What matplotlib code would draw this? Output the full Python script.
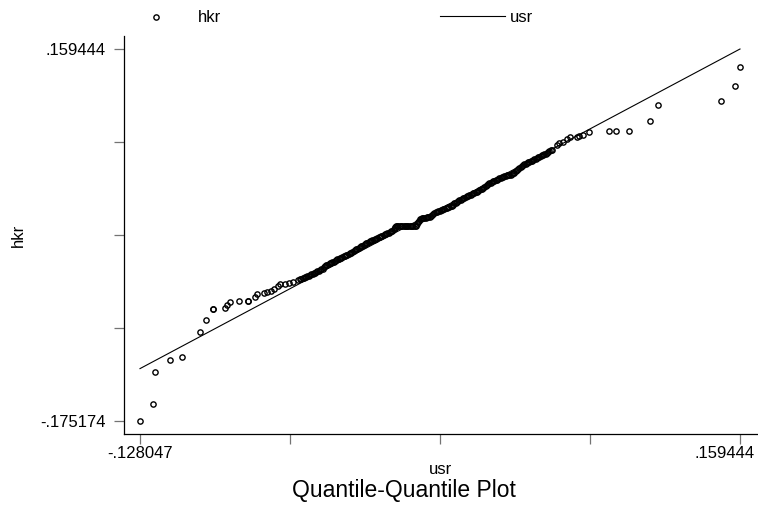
import matplotlib
matplotlib.use("Agg")
import matplotlib.pyplot as plt
from matplotlib.lines import Line2D
from matplotlib.transforms import ScaledTranslation

plt.rcParams['font.family'] = ['Liberation Sans', 'DejaVu Sans']

# quantiles (usr on x, hkr on y)
usr_lower = [-0.128047, -0.12167, -0.12086, -0.11353, -0.10792, -0.09930, -0.09642,
             -0.09321, -0.09300, -0.08746, -0.08651, -0.08492, -0.08076, -0.07644,
             -0.07620, -0.07295, -0.07199, -0.06878, -0.06734, -0.06528, -0.06370,
             -0.06207, -0.06097, -0.05857, -0.05665, -0.05459, -0.05220]
hkr_lower = [-0.175174, -0.16015, -0.13110, -0.12003, -0.11788, -0.09539, -0.08432,
             -0.07470, -0.07440, -0.07380, -0.07110, -0.06813, -0.06750, -0.06696,
             -0.06680, -0.06391, -0.06121, -0.06031, -0.05914, -0.05797, -0.05644,
             -0.05374, -0.05221, -0.05167, -0.05077, -0.04987, -0.04834]

# dense middle band, first pass of readings
usr_mid = [-0.05138, -0.05018, -0.04899, -0.04779, -0.04659, -0.04539, -0.04420, -0.04300,
           -0.04180, -0.04060, -0.03941, -0.03821, -0.03701, -0.03581, -0.03462, -0.03342,
           -0.03222, -0.03102, -0.02983, -0.02863, -0.02743, -0.02623, -0.02504, -0.02384,
           -0.02264, -0.02144, -0.02025, -0.01905, -0.01785, -0.01665, -0.01546, -0.01426,
           -0.01306, -0.01186, -0.01067, -0.00947, -0.00827, -0.00707, -0.00610, -0.00538,
           -0.00419, -0.00299, -0.00179, -0.00059, 0.00060, 0.00180, 0.00300, 0.00420,
           0.00516, 0.00588, 0.00707, 0.00827, 0.00947, 0.01067, 0.01186, 0.01306,
           0.01426, 0.01546, 0.01665, 0.01785, 0.01905, 0.02025, 0.02144, 0.02264,
           0.02384, 0.02504, 0.02623, 0.02743, 0.02863, 0.02983, 0.03102, 0.03222,
           0.03342, 0.03462, 0.03581, 0.03701, 0.03821, 0.03941, 0.04060, 0.04180,
           0.04300, 0.04420, 0.04539, 0.04659, 0.04779, 0.04899, 0.05018, 0.05138,
           0.05258, 0.05378, 0.05497, 0.05617, 0.05737, 0.05857, 0.05976, 0.06096,
           0.06216, 0.06336, 0.06455, 0.06575, 0.06695, 0.06815, 0.06934]
hkr_mid = [-0.04789, -0.04699, -0.04591, -0.04492, -0.04385, -0.04277, -0.04160, -0.04043,
           -0.03935, -0.03800, -0.03602, -0.03449, -0.03350, -0.03242, -0.03107, -0.02981,
           -0.02882, -0.02783, -0.02658, -0.02541, -0.02433, -0.02298, -0.02154, -0.02010,
           -0.01866, -0.01731, -0.01596, -0.01488, -0.01371, -0.01263, -0.01164, -0.01056,
           -0.00966, -0.00832, -0.00715, -0.00607, -0.00517, -0.00382, -0.00157, 0.0,
           0.0, 0.0, 0.0, 0.0, 0.0, 0.0, 0.0, 0.0,
           0.00338, 0.00653, 0.00725, 0.00761, 0.00806, 0.00851, 0.01013, 0.01192,
           0.01318, 0.01399, 0.01480, 0.01570, 0.01660, 0.01750, 0.01858, 0.02047,
           0.02200, 0.02335, 0.02452, 0.02569, 0.02686, 0.02794, 0.02902, 0.03018,
           0.03126, 0.03243, 0.03396, 0.03558, 0.03729, 0.03864, 0.03981, 0.04089,
           0.04197, 0.04314, 0.04413, 0.04494, 0.04566, 0.04629, 0.04674, 0.04835,
           0.05060, 0.05240, 0.05420, 0.05573, 0.05690, 0.05798, 0.05906, 0.06023,
           0.06140, 0.06248, 0.06365, 0.06482, 0.06590, 0.06742, 0.06904]

# dense middle band, second pass of readings (between the first-pass spots)
usr_mid2 = [-0.05078, -0.04958, -0.04839, -0.04719, -0.04599, -0.04479, -0.04360, -0.04240,
            -0.04120, -0.04000, -0.03881, -0.03761, -0.03641, -0.03521, -0.03402, -0.03282,
            -0.03162, -0.03042, -0.02923, -0.02803, -0.02683, -0.02563, -0.02444, -0.02324,
            -0.02204, -0.02084, -0.01965, -0.01845, -0.01725, -0.01605, -0.01486, -0.01366,
            -0.01246, -0.01126, -0.01007, -0.00887, -0.00767, -0.00658, -0.00574, -0.00478,
            -0.00359, -0.00239, -0.00119, 0.00000, 0.00120, 0.00240, 0.00360, 0.00468,
            0.00552, 0.00647, 0.00767, 0.00887, 0.01007, 0.01126, 0.01246, 0.01366,
            0.01486, 0.01605, 0.01725, 0.01845, 0.01965, 0.02084, 0.02204, 0.02324,
            0.02444, 0.02563, 0.02683, 0.02803, 0.02923, 0.03042, 0.03162, 0.03282,
            0.03402, 0.03521, 0.03641, 0.03761, 0.03881, 0.04000, 0.04120, 0.04240,
            0.04360, 0.04479, 0.04599, 0.04719, 0.04839, 0.04958, 0.05078, 0.05198,
            0.05318, 0.05437, 0.05557, 0.05677, 0.05797, 0.05916, 0.06036, 0.06156,
            0.06276, 0.06395, 0.06515, 0.06635, 0.06755, 0.06874]
hkr_mid2 = [-0.04744, -0.04645, -0.04541, -0.04438, -0.04331, -0.04218, -0.04101, -0.03989,
            -0.03867, -0.03701, -0.03525, -0.03399, -0.03296, -0.03174, -0.03044, -0.02931,
            -0.02832, -0.02720, -0.02599, -0.02487, -0.02365, -0.02226, -0.02082, -0.01938,
            -0.01798, -0.01663, -0.01542, -0.01429, -0.01317, -0.01213, -0.01110, -0.01011,
            -0.00899, -0.00773, -0.00661, -0.00562, -0.00449, -0.00270, -0.00079, 0.0,
            0.0, 0.0, 0.0, 0.0, 0.0, 0.0, 0.0, 0.00169,
            0.00496, 0.00689, 0.00743, 0.00784, 0.00829, 0.00932, 0.01103, 0.01255,
            0.01359, 0.01440, 0.01525, 0.01615, 0.01705, 0.01804, 0.01953, 0.02124,
            0.02268, 0.02394, 0.02511, 0.02628, 0.02740, 0.02848, 0.02960, 0.03072,
            0.03185, 0.03320, 0.03477, 0.03644, 0.03797, 0.03923, 0.04035, 0.04143,
            0.04256, 0.04364, 0.04454, 0.04530, 0.04598, 0.04652, 0.04755, 0.04948,
            0.05150, 0.05330, 0.05497, 0.05632, 0.05744, 0.05852, 0.05965, 0.06082,
            0.06194, 0.06307, 0.06424, 0.06536, 0.06666, 0.06823]

usr_upper = [0.07162, 0.07286, 0.07478, 0.07641, 0.07813, 0.08149, 0.08230, 0.08407,
             0.08709, 0.09667, 0.10017, 0.10640, 0.11646, 0.12001, 0.15048, 0.15719, 0.159444]
hkr_upper = [0.07309, 0.07516, 0.07606, 0.07822, 0.08002, 0.08029, 0.08119, 0.08236,
             0.08523, 0.08541, 0.08595, 0.08604, 0.09468, 0.10934, 0.11267, 0.12589, 0.14298]

usr_q = usr_lower + usr_mid + usr_mid2 + usr_upper
hkr_q = hkr_lower + hkr_mid + hkr_mid2 + hkr_upper

x_ticks = [-0.128047, -0.0561653, 0.01571595, 0.0875972, 0.159444]
x_labels = ['-.128047', '', '', '', '.159444']
y_ticks = [-0.175174, -0.0915195, -0.007865, 0.0757895, 0.159444]
y_labels = ['-.175174', '', '', '', '.159444']

fig = plt.figure(figsize=(7.58, 5.09), dpi=100)
ax = fig.add_axes([124 / 758, 75 / 509, 634 / 758, 398 / 509])

# line of equality
ax.plot([x_ticks[0], x_ticks[-1]], [x_ticks[0], x_ticks[-1]], color='black', lw=0.8)
ax.plot(usr_q, hkr_q, linestyle='none', marker='o', ms=3.8, mfc='none',
        mec='black', mew=1.0)

ax.set_xlim(-0.135713, 0.168069)
ax.set_ylim(-0.186868, 0.171138)

for side in ['top', 'right']:
    ax.spines[side].set_visible(False)
for side in ['left', 'bottom']:
    ax.spines[side].set_linewidth(0.9)

ax.set_xticks(x_ticks)
ax.set_xticklabels(x_labels, fontsize=12)
ax.set_yticks(y_ticks)
ax.set_yticklabels(y_labels, fontsize=12)
ax.tick_params(axis='both', length=7, width=0.9, color='0.45')
ax.tick_params(axis='y', pad=6)
ax.tick_params(axis='x', pad=2)

# right-most x label is pushed left to stay inside the figure
last = ax.get_xticklabels()[-1]
last.set_horizontalalignment('right')
last.set_transform(last.get_transform() + ScaledTranslation(0.15, 0, fig.dpi_scale_trans))

fig.text(18 / 758, 1 - 235 / 509, 'hkr', rotation=90, ha='center', va='center', fontsize=12)
fig.text(440 / 758, 1 - 470 / 509, 'usr', ha='center', va='center', fontsize=12)
fig.text(404 / 758, 1 - 490 / 509, 'Quantile-Quantile Plot', ha='center', va='center',
         fontsize=16.5)

# legend across the top
fig.add_artist(Line2D([156 / 758], [1 - 17 / 509], marker='o', ms=3.8, mfc='none',
                      mec='black', mew=1.0, linestyle='none'))
fig.text(198 / 758, 1 - 17 / 509, 'hkr', ha='left', va='center', fontsize=12)
fig.add_artist(Line2D([440 / 758, 505 / 758], [1 - 16 / 509, 1 - 16 / 509],
                      color='black', lw=0.8))
fig.text(510 / 758, 1 - 17 / 509, 'usr', ha='left', va='center', fontsize=12)

fig.savefig('out.png', dpi=100)
